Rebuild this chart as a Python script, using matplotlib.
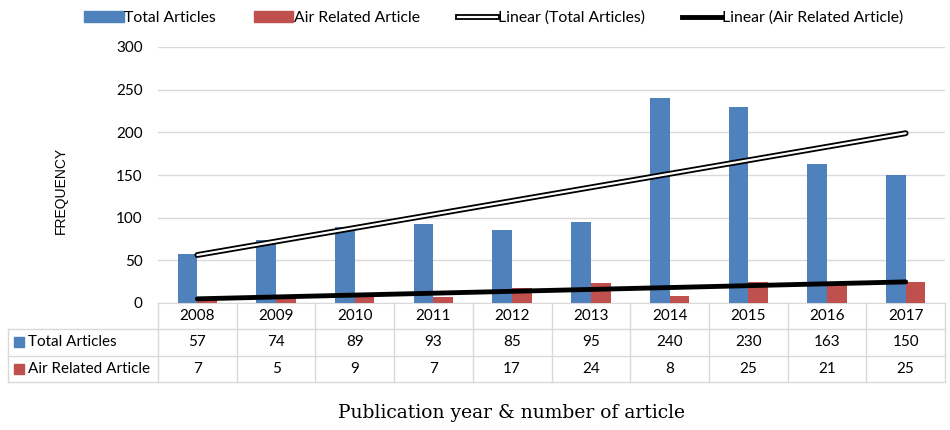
import numpy as np
import matplotlib.pyplot as plt
import matplotlib.patheffects as pe
from matplotlib.lines import Line2D
from matplotlib.patches import Patch, Rectangle
from matplotlib.transforms import blended_transform_factory

years = ["2008", "2009", "2010", "2011", "2012", "2013", "2014", "2015", "2016", "2017"]
total_articles = [57, 74, 89, 93, 85, 95, 240, 230, 163, 150]
air_articles = [7, 5, 9, 7, 17, 24, 8, 25, 21, 25]

blue = "#4F81BD"
red = "#C0504D"
grid = "#D9D9D9"

plt.rcParams['font.family'] = ['Lato', 'DejaVu Sans']

fig = plt.figure(figsize=(9.5, 4.3), dpi=100)
ax = fig.add_axes([158/950, 1 - 303/430, (945 - 158)/950, 256/430])

x = np.arange(len(years))
w = 0.25
ax.bar(x - w/2, total_articles, width=w, color=blue, zorder=2)
ax.bar(x + w/2, air_articles, width=w, color=red, zorder=2)

# linear trendlines (least squares, like Excel)
t = x + 1
p1 = np.polyfit(t, total_articles, 1)
p2 = np.polyfit(t, air_articles, 1)
dbl = [pe.Stroke(linewidth=4.2, foreground="black"), pe.Normal()]
ax.plot(x, np.polyval(p1, t), color="white", lw=1.6, solid_capstyle="round", zorder=3,
        path_effects=dbl)
ax.plot(x, np.polyval(p2, t), color="black", lw=3.5, solid_capstyle="round", zorder=3)

ax.set_xlim(-0.5, len(years) - 0.5)
ax.set_ylim(0, 300)
ax.set_yticks(range(0, 301, 50))
ax.yaxis.grid(True, color=grid, lw=1)
ax.set_axisbelow(True)
for s in ["top", "right", "left"]:
    ax.spines[s].set_visible(False)
ax.spines["bottom"].set_color(grid)
ax.spines["bottom"].set_zorder(1)
ax.tick_params(axis="y", length=0, labelsize=11, pad=11)
ax.tick_params(axis="x", length=0, labelbottom=False)
fig.text(61/950, 1 - 190/430, "FREQUENCY", rotation=90, ha="center", va="center",
         family=["Liberation Sans", "DejaVu Sans"], fontsize=10)

# data table under the chart
tr = blended_transform_factory(ax.transData, ax.transAxes)
rh = 26.3 / 256
px = 10 / 787  # data units per pixel along x
left_edge = (8 - 158) * px - 0.5
right_edge = len(years) - 0.5
lkw = dict(color=grid, lw=1, transform=tr, clip_on=False)
for i in range(len(years) + 1):
    ax.add_line(Line2D([i - 0.5, i - 0.5], [0, -3 * rh], **lkw))
for r in [1, 2, 3]:
    ax.add_line(Line2D([left_edge, right_edge], [-r * rh, -r * rh], **lkw))
ax.add_line(Line2D([left_edge, left_edge], [-rh, -3 * rh], **lkw))

for i, yr in enumerate(years):
    ax.text(i, -0.5 * rh, yr, transform=tr, ha="center", va="center", fontsize=11)
    ax.text(i, -1.5 * rh, str(total_articles[i]), transform=tr, ha="center", va="center", fontsize=11)
    ax.text(i, -2.5 * rh, str(air_articles[i]), transform=tr, ha="center", va="center", fontsize=11)

for r, (lab, col) in enumerate([("Total Articles", blue), ("Air Related Article", red)]):
    yc = -(1.5 + r) * rh
    ax.add_patch(Rectangle((left_edge + 6 * px, yc - 5 / 256), 10 * px, 10 / 256, color=col,
                           transform=tr, clip_on=False))
    ax.text(left_edge + 20 * px, yc, lab, transform=tr, ha="left", va="center", fontsize=11)

# legend
handles = [Patch(color=blue), Patch(color=red),
           Line2D([], [], color="white", lw=1.6, path_effects=dbl),
           Line2D([], [], color="black", lw=3.5)]
labels = ["Total Articles", "Air Related Article", "Linear (Total Articles)", "Linear (Air Related Article)"]
fig.legend(handles, labels, loc="center", bbox_to_anchor=(494/950, 1 - 18/430), ncol=4,
           frameon=False, fontsize=11.3, handlelength=2.5, handletextpad=0.05, columnspacing=2.4)

fig.text(511/950, 1 - 413/430, "Publication year & number of article", ha="center", va="center",
         family=["DejaVu Serif"], fontsize=13.5)

fig.savefig("out.png", dpi=100)
